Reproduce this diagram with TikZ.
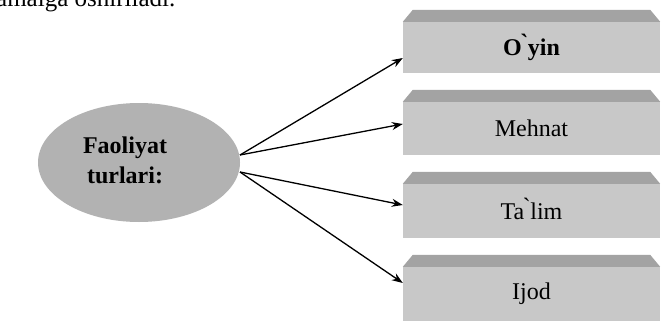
\documentclass[tikz,border=0pt]{standalone}
\usepackage{fontspec}
\setmainfont{Liberation Serif}
\usetikzlibrary{arrows.meta,shapes.geometric}
\definecolor{ellfill}{RGB}{178,178,178}
\definecolor{boxfront}{RGB}{200,200,200}
\definecolor{boxtop}{RGB}{163,163,163}
\tikzset{
  ell/.style={ellipse,fill=ellfill,draw=none,minimum width=202pt,minimum height=119pt,inner sep=0pt},
  elltext/.style={font=\fontsize{24}{24}\selectfont\bfseries,anchor=base,inner sep=0pt},
  boxfrontstyle/.style={rectangle,fill=boxfront,draw=none,minimum width=257pt,inner sep=0pt,font=\fontsize{24}{24}\selectfont},
  boxtopstyle/.style={fill=boxtop,draw=none},
  arr/.style={draw=black,line width=1.3pt,-{Stealth[length=11pt,width=8pt]}},
  toptext/.style={font=\fontsize{25}{25}\selectfont,anchor=base west,inner sep=0pt}
}
\begin{document}
\begin{tikzpicture}[x=1pt,y=-1pt]
\useasboundingbox (0,0) rectangle (661,321);
\clip (0,0) rectangle (661,321);
\fill[white] (0,0) rectangle (661,321);
% partially visible line of text at the top
\node[toptext] (top) at (-4,7) {amalga oshiriladi.};
% ellipse
\node[ell] (E) at (139,162.5) {};
\node[elltext] (E1) at (125,153) {Faoliyat};
\node[elltext] (E2) at (125,183) {turlari:};
% boxes: front faces
\node[boxfrontstyle,minimum height=51pt] (B1) at (531.5,47.5) {\bfseries O\`{}yin};
\node[boxfrontstyle,minimum height=53pt] (B2) at (531.5,128.5) {Mehnat};
\node[boxfrontstyle,minimum height=54pt] (B3) at (531.5,211) {\raisebox{5pt}{Ta\`{}lim}};
\node[boxfrontstyle,minimum height=54pt] (B4) at (531.5,294) {Ijod};
% boxes: top bevel faces
\foreach \b in {B1,B2,B3,B4}{
  \fill[boxtopstyle] (\b.north west) -- ([xshift=10pt,yshift=12pt]\b.north west)
    -- ([xshift=-10pt,yshift=12pt]\b.north east) -- (\b.north east) -- cycle;
}
% arrow start points on the ellipse
\coordinate (s1) at (240,155);
\coordinate (s2) at (240,172);
\draw[arr] (s1) -- ([yshift=-10.5pt]B1.west);
\draw[arr] (s1) -- ([yshift=4.5pt]B2.west);
\draw[arr] (s2) -- ([yshift=6pt]B3.west);
\draw[arr] (s2) -- ([yshift=11pt]B4.west);
\end{tikzpicture}
\end{document}
